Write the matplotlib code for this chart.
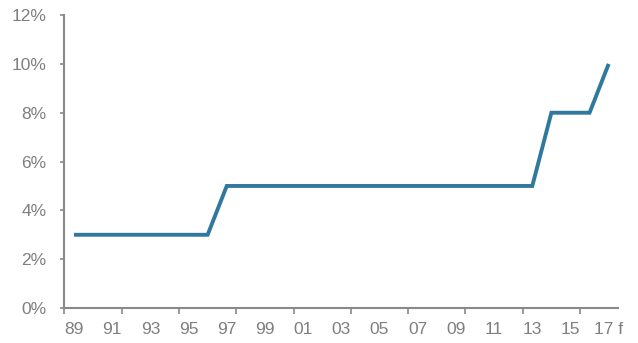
import numpy as np
import matplotlib
matplotlib.use("Agg")
import matplotlib.pyplot as plt
from matplotlib.ticker import FixedLocator, FuncFormatter

years = list(range(1989, 2018))
rate = [3, 3, 3, 3, 3, 3, 3, 3,
        5, 5, 5, 5, 5, 5, 5, 5, 5, 5, 5, 5, 5, 5, 5, 5, 5,
        8, 8, 8,
        10]
year_labels = ['89', '91', '93', '95', '97', '99', '01', '03',
               '05', '07', '09', '11', '13', '15', '17 f']

grey = '#898989'
text_grey = '#7f7f7f'
line_col = '#31789e'

plt.rcParams['font.family'] = ['Liberation Sans', 'DejaVu Sans']

fig = plt.figure(figsize=(6.38, 3.43), dpi=100)
ax = fig.add_axes([0.101, 0.102, 0.868, 0.854])

x = np.arange(len(years))
ax.plot(x, rate, color=line_col, lw=2.8, solid_joinstyle='miter', solid_capstyle='butt')

ax.set_xlim(-0.5, len(years) - 0.5)
ax.set_ylim(0, 12)

# labels every second year, tick marks every third category boundary
ax.xaxis.set_major_locator(FixedLocator(np.arange(0, len(years), 2)))
ax.set_xticklabels(year_labels)
ax.xaxis.set_minor_locator(FixedLocator(np.arange(-0.5, len(years) - 0.5, 3)))
ax.tick_params(axis='x', which='major', length=0, pad=10, labelsize=12.5, labelcolor=text_grey)
ax.tick_params(axis='x', which='minor', length=4, width=1.2, color=grey, direction='out')

ax.set_yticks(np.arange(0, 13, 2))
ax.yaxis.set_major_formatter(FuncFormatter(lambda v, p: f'{int(v)}%'))
ax.tick_params(axis='y', length=3, width=1.2, color=grey, pad=10, labelsize=12.5, labelcolor=text_grey)

for side in ['top', 'right']:
    ax.spines[side].set_visible(False)
for side in ['left', 'bottom']:
    ax.spines[side].set_color(grey)
    ax.spines[side].set_linewidth(1.5)

fig.savefig('out.png', dpi=100)
